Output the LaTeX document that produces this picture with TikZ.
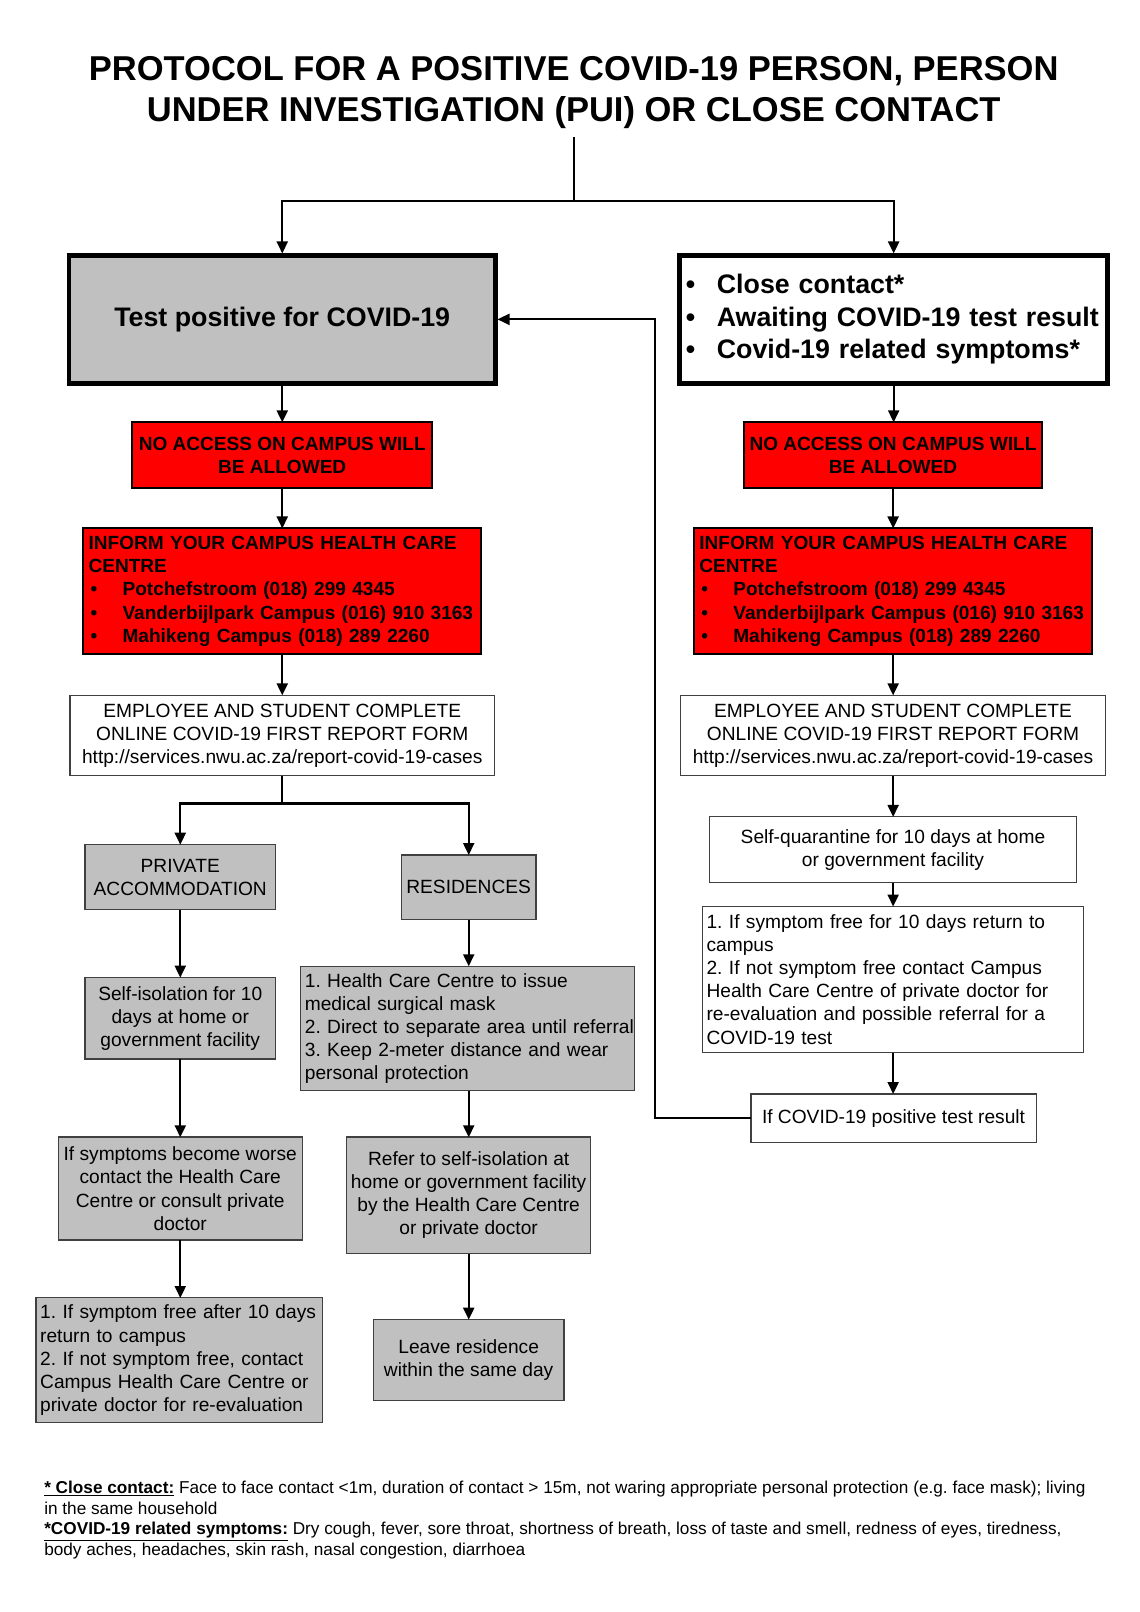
\documentclass[tikz,border=0pt]{standalone}
\usepackage{fontspec}
\setmainfont{Liberation Sans}
\usetikzlibrary{arrows.meta}
\definecolor{boxgray}{RGB}{192,192,192}
\definecolor{redfill}{RGB}{255,0,0}
\definecolor{edgegray}{RGB}{64,64,64}
\newcommand\myfs[2]{\fontsize{#1}{#2}\selectfont}
\hyphenpenalty=10000
\exhyphenpenalty=10000
\begin{document}
\frenchspacing
\begin{tikzpicture}[x=1pt,y=-1pt,
 base/.style={inner sep=0pt, outer sep=0pt, font=\myfs{18.6}{22.4}},
 thinbox/.style={base, draw=edgegray, line width=1.3pt, fill=white},
 graybox/.style={thinbox, fill=boxgray},
 redbox/.style={base, draw=black, line width=2pt, fill=redfill, font=\bfseries\myfs{18.5}{22.6}},
 heavybox/.style={base, draw=black, line width=4.8pt, font=\bfseries\myfs{26}{31.5}},
 arr/.style={line width=2.1pt, -{Triangle[length=12pt,width=11pt]}},
 plain/.style={line width=2.1pt},
 sz/.style 2 args={minimum width=#1pt, minimum height=#2pt},
]
\useasboundingbox (0,0) rectangle (1140,1612);
\fill[white] (0,0) rectangle (1140,1612);
\begin{scope}[scale=1.03, transform shape]

\node[base, font=\bfseries\myfs{33.5}{40}, align=center, anchor=north] (title) at (557,55)
 {PROTOCOL FOR A POSITIVE COVID-19 PERSON, PERSON\\UNDER INVESTIGATION (PUI) OR CLOSE CONTACT};

% top boxes
\node[heavybox, fill=boxgray, sz={414}{124}] (tp) at (274,310) {Test positive for COVID-19};
\node[heavybox, fill=white, sz={415}{124}, text width=407pt, align=left] (cc) at (867.5,310)
 {\hspace*{2pt}\makebox[30pt][l]{•}Close contact*\\
  \hspace*{2pt}\makebox[30pt][l]{•}Awaiting COVID-19 test result\\
  \hspace*{2pt}\makebox[30pt][l]{•}Covid-19 related symptoms*};

% red boxes
\node[redbox, sz={291}{64}, align=center] (nal) at (274,442) {NO ACCESS ON CAMPUS WILL\\BE ALLOWED};
\node[redbox, sz={290}{64}, align=center] (nar) at (867,442) {NO ACCESS ON CAMPUS WILL\\BE ALLOWED};
\node[redbox, sz={386}{122}, text width=376pt, align=left] (infl) at (274,574)
 {INFORM YOUR CAMPUS HEALTH CARE\\CENTRE\\
  \hspace*{2pt}\makebox[31pt][l]{•}Potchefstroom (018) 299 4345\\
  \hspace*{2pt}\makebox[31pt][l]{•}Vanderbijlpark Campus (016) 910 3163\\
  \hspace*{2pt}\makebox[31pt][l]{•}Mahikeng Campus (018) 289 2260};
\node[redbox, sz={386}{122}, text width=376pt, align=left] (infr) at (867,574)
 {INFORM YOUR CAMPUS HEALTH CARE\\CENTRE\\
  \hspace*{2pt}\makebox[31pt][l]{•}Potchefstroom (018) 299 4345\\
  \hspace*{2pt}\makebox[31pt][l]{•}Vanderbijlpark Campus (016) 910 3163\\
  \hspace*{2pt}\makebox[31pt][l]{•}Mahikeng Campus (018) 289 2260};

% report forms
\node[thinbox, sz={412}{78}, align=center] (erl) at (274,714)
 {EMPLOYEE AND STUDENT COMPLETE\\ONLINE COVID-19 FIRST REPORT FORM\\http://services.nwu.ac.za/report-covid-19-cases};
\node[thinbox, sz={412}{78}, align=center] (err) at (867,714)
 {EMPLOYEE AND STUDENT COMPLETE\\ONLINE COVID-19 FIRST REPORT FORM\\http://services.nwu.ac.za/report-covid-19-cases};

% left branch
\node[graybox, sz={185}{63}, align=center] (priv) at (175,851.5) {PRIVATE\\ACCOMMODATION};
\node[graybox, sz={131}{63}] (res) at (455,861.5) {RESIDENCES};
\node[graybox, sz={185}{79}, align=center] (siso) at (175,988.5) {Self-isolation for 10\\days at home or\\government facility};
\node[graybox, sz={324}{121}, text width=316pt, align=left] (resl) at (454,998.5)
 {1. Health Care Centre to issue\\medical surgical mask\\\mbox{2. Direct to separate area until referral}\\3. Keep 2-meter distance and wear\\personal protection};
\node[graybox, sz={237}{100}, align=center] (worse) at (175,1154)
 {If symptoms become worse\\contact the Health Care\\Centre or consult private\\doctor};
\node[graybox, sz={237}{113}, align=center] (refer) at (455,1160.5)
 {Refer to self-isolation at\\home or government facility\\by the Health Care Centre\\or private doctor};
\node[graybox, sz={278}{121}, text width=270pt, align=left] (sfree) at (174,1320.5)
 {1. If symptom free after 10 days\\return to campus\\2. If not symptom free, contact\\Campus Health Care Centre or\\private doctor for re-evaluation};
\node[graybox, sz={185}{79}, align=center] (leave) at (455,1320.5) {Leave residence\\within the same day};

% right branch
\node[thinbox, sz={356}{64}, align=center] (squar) at (867,825) {Self-quarantine for 10 days at home\\or government facility};
\node[thinbox, sz={370}{142}, text width=362pt, align=left] (rfree) at (867,951)
 {1. If symptom free for 10 days return to\\campus\\2. If not symptom free contact Campus\\Health Care Centre of private doctor for\\re-evaluation and possible referral for a\\COVID-19 test};
\node[thinbox, sz={277}{47}] (pos) at (867.5,1085.5) {If COVID-19 positive test result};

% connectors
\coordinate (stemtop) at (557,133);
\coordinate (split) at (557,195);
\draw[plain] (stemtop) -- (split);
\draw[arr, shorten >=2pt] (split) -| (tp.north);
\draw[arr, shorten >=2pt] (split) -| (cc.north);
\draw[arr] (tp.south) -- (tp.south |- nal.north);
\draw[arr] (cc.south) -- (cc.south |- nar.north);
\draw[arr] (nal.south) -- (nal.south |- infl.north);
\draw[arr] (nar.south) -- (nar.south |- infr.north);
\draw[arr] (infl.south) -- (infl.south |- erl.north);
\draw[arr] (infr.south) -- (infr.south |- err.north);
\coordinate (splitL) at (274,780);
\draw[plain] (erl.south) -- (splitL);
\draw[arr] (splitL) -| (priv.north);
\draw[arr] (splitL) -| (res.north);
\draw[arr] (priv.south) -- (priv.south |- siso.north);
\draw[arr] (res.south) -- (res.south |- resl.north);
\draw[arr] (siso.south) -- (siso.south |- worse.north);
\draw[arr] (res.south |- resl.south) -- (res.south |- refer.north);
\draw[arr] (worse.south) -- (worse.south |- sfree.north);
\draw[arr] (refer.south) -- (refer.south |- leave.north);
\draw[arr] (err.south) -- (err.south |- squar.north);
\draw[arr] (squar.south) -- (squar.south |- rfree.north);
\draw[arr] (rfree.south) -- (rfree.south |- pos.north);
\coordinate (fb) at (636,310);
\draw[arr, shorten >=2pt] (pos.west) -| (fb) -- (tp.east);

% footnotes
\node[base, font=\myfs{16.7}{20}, anchor=north west, align=left] (notes) at (43,1438)
 {\underline{\textbf{* Close contact:}} Face to face contact <1m, duration of contact > 15m, not waring appropriate personal protection (e.g. face mask); living\\
  in the same household\\
  \underline{\textbf{*COVID-19 related symptoms:}} Dry cough, fever, sore throat, shortness of breath, loss of taste and smell, redness of eyes, tiredness,\\
  body aches, headaches, skin rash, nasal congestion, diarrhoea};
\end{scope}
\end{tikzpicture}
\end{document}
